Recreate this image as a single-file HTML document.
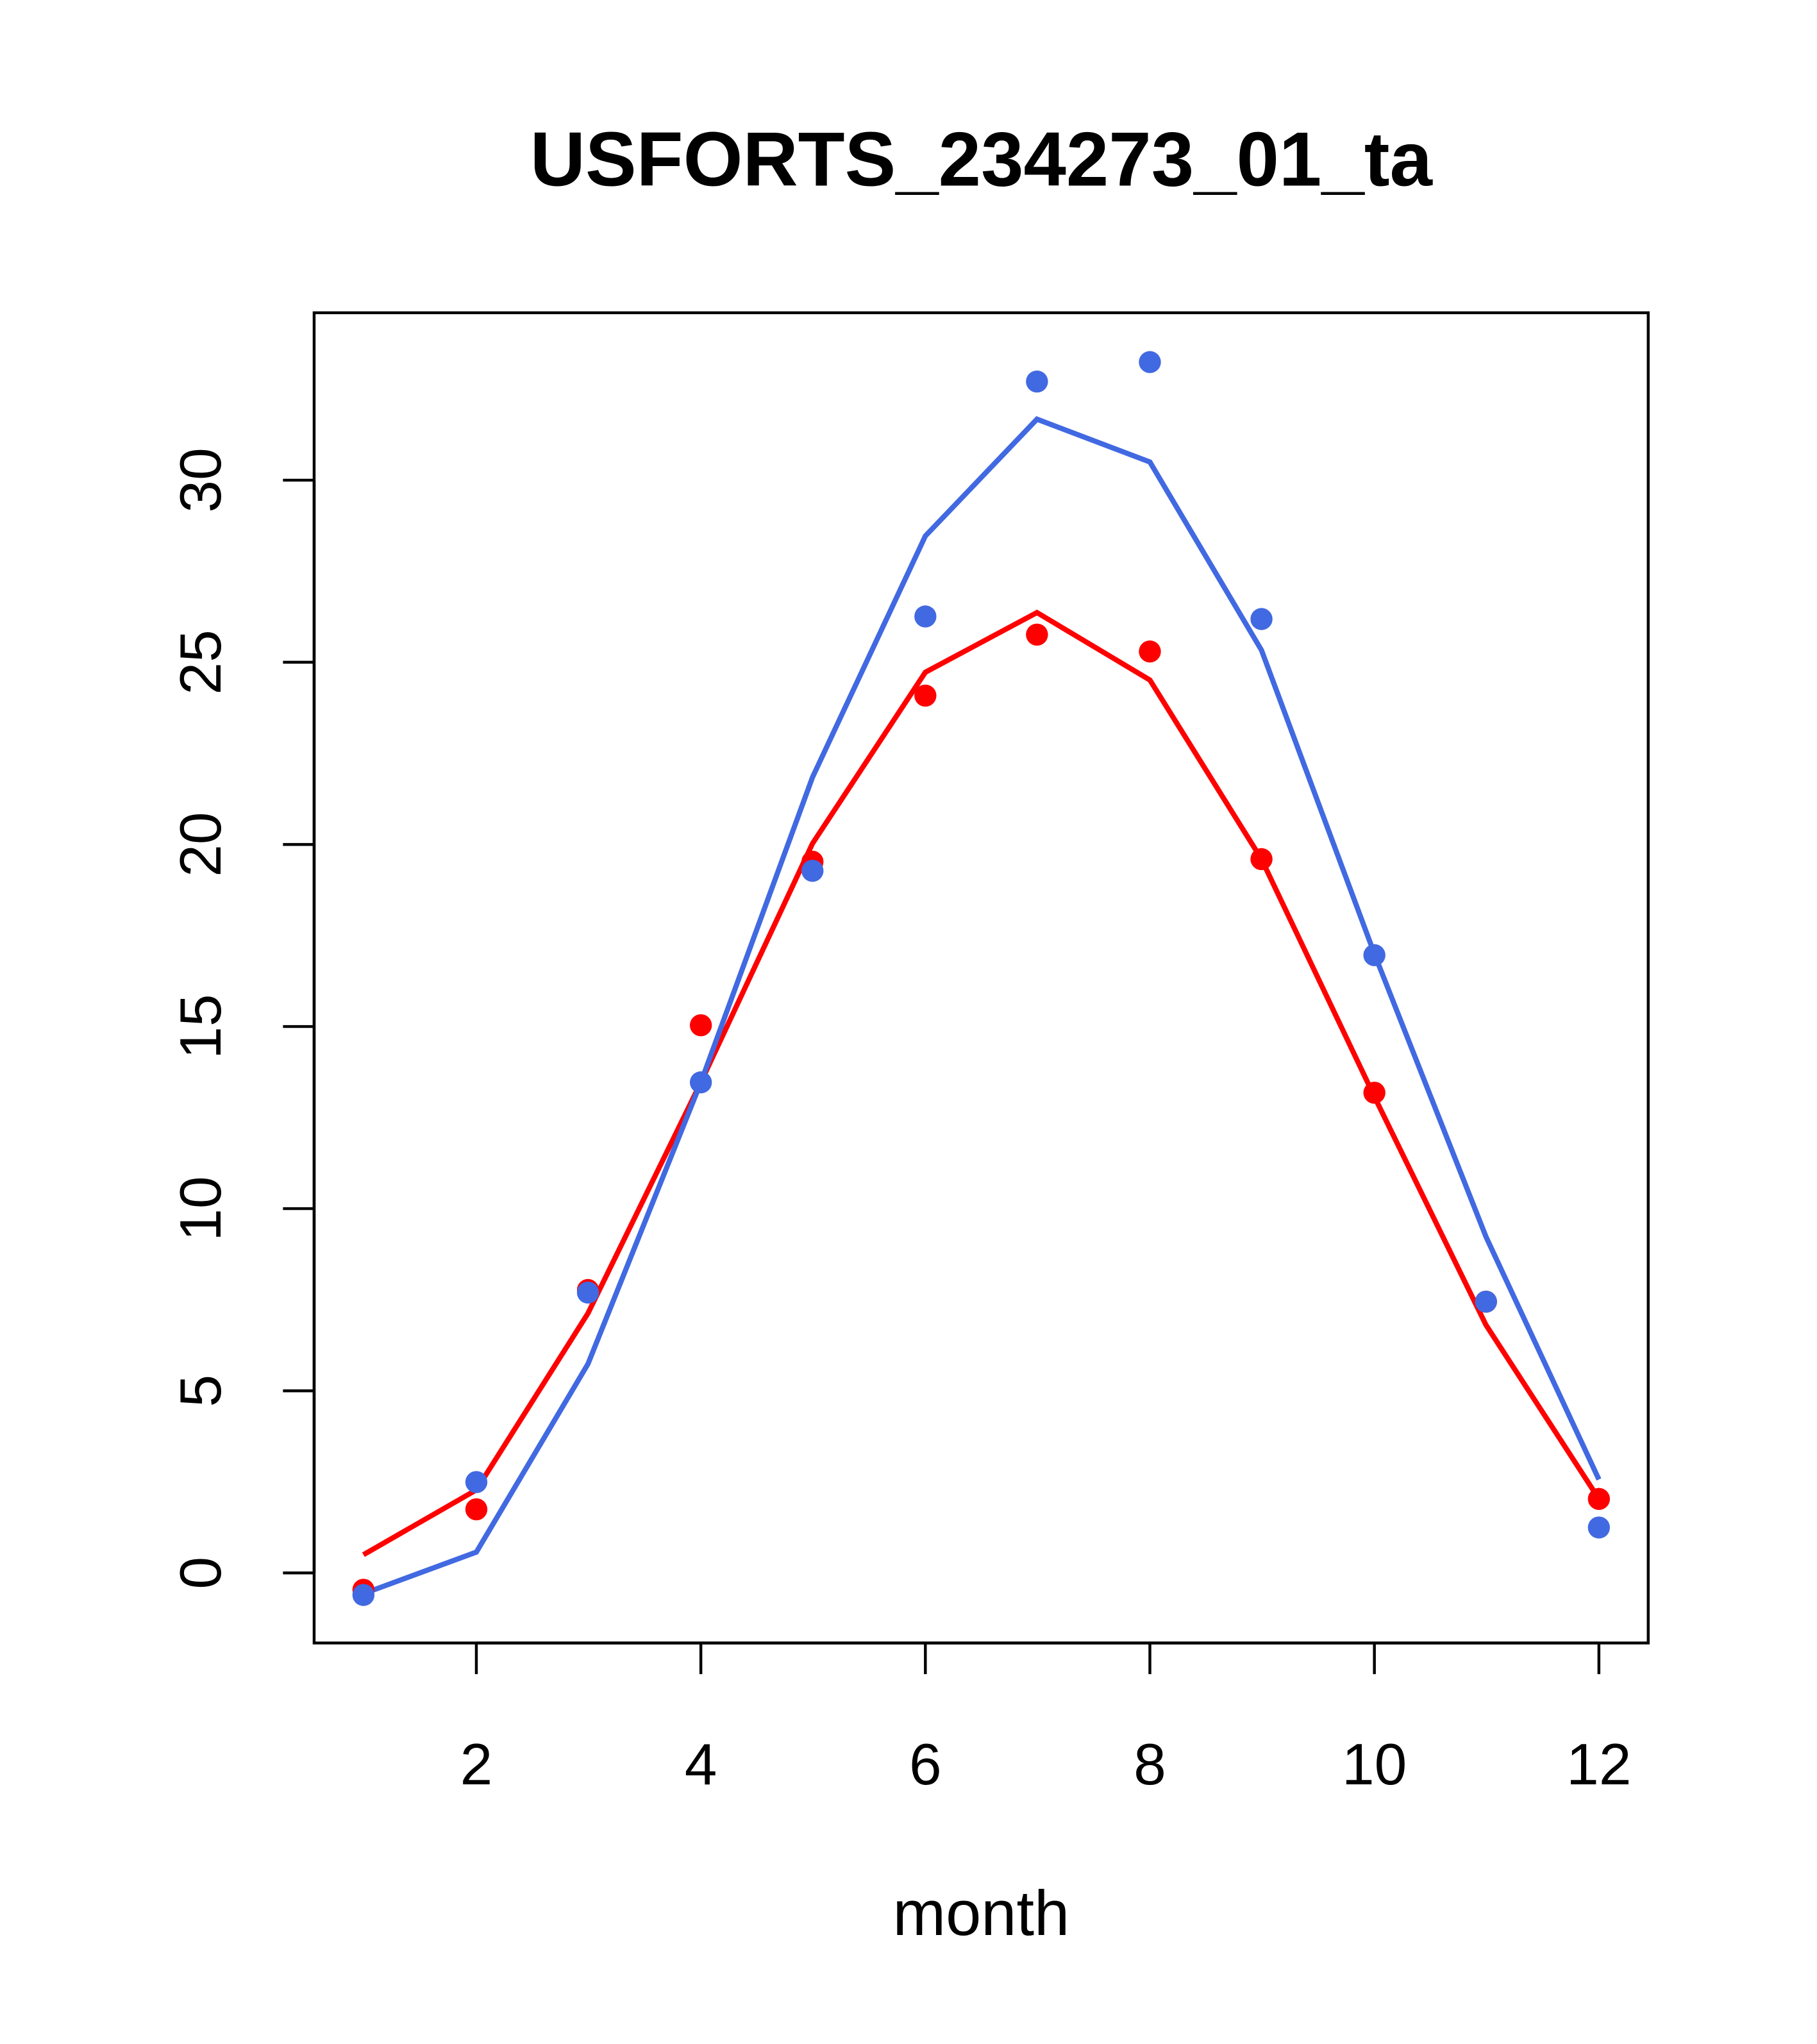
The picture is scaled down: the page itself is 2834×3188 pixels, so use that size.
<!DOCTYPE html>
<html><head><meta charset="utf-8"><style>
html,body{margin:0;padding:0;background:#fff;}
svg{display:block;}
text{font-family:"Liberation Sans",Arial,sans-serif;}
</style></head><body>
<svg width="2834" height="3188" viewBox="0 0 1400 1575" xmlns="http://www.w3.org/2000/svg">
<rect width="1400" height="1575" fill="#fff"/>
<text x="756" y="143" font-size="59" font-weight="bold" text-anchor="middle">USFORTS_234273_01_ta</text>
<rect x="242" y="241" width="1028" height="1025" fill="none" stroke="#000" stroke-width="2.2"/>
<g stroke="#000" stroke-width="2.2">
<line x1="367" y1="1266" x2="1232" y2="1266"/>
<line x1="367" y1="1266" x2="367" y2="1290"/><line x1="540" y1="1266" x2="540" y2="1290"/>
<line x1="713" y1="1266" x2="713" y2="1290"/><line x1="886" y1="1266" x2="886" y2="1290"/>
<line x1="1059" y1="1266" x2="1059" y2="1290"/><line x1="1232" y1="1266" x2="1232" y2="1290"/>
<line x1="242" y1="370" x2="242" y2="1212"/>
<line x1="242" y1="1212" x2="218" y2="1212"/><line x1="242" y1="1071.7" x2="218" y2="1071.7"/>
<line x1="242" y1="931.3" x2="218" y2="931.3"/><line x1="242" y1="791" x2="218" y2="791"/>
<line x1="242" y1="650.7" x2="218" y2="650.7"/><line x1="242" y1="510.3" x2="218" y2="510.3"/>
<line x1="242" y1="370" x2="218" y2="370"/>
</g>
<g font-size="45" text-anchor="middle">
<text x="367" y="1375">2</text><text x="540" y="1375">4</text><text x="713" y="1375">6</text>
<text x="886" y="1375">8</text><text x="1059" y="1375">10</text><text x="1232" y="1375">12</text>
<text transform="translate(170,1212) rotate(-90)">0</text>
<text transform="translate(170,1071.7) rotate(-90)">5</text>
<text transform="translate(170,931.3) rotate(-90)">10</text>
<text transform="translate(170,791) rotate(-90)">15</text>
<text transform="translate(170,650.7) rotate(-90)">20</text>
<text transform="translate(170,510.3) rotate(-90)">25</text>
<text transform="translate(170,370) rotate(-90)">30</text>
</g>
<text x="756" y="1491" font-size="49" text-anchor="middle">month</text>
<polyline fill="none" stroke="#ff0000" stroke-width="4" points="280,1198 367,1148 453,1012 540,834 626,650 713,518 799,472 886,524 972,662 1059,845 1145,1021 1232,1155"/>
<polyline fill="none" stroke="#4169e1" stroke-width="4" points="280,1228 367,1196 453,1051 540,834 626,599 713,413 799,323 886,356 972,501 1059,735 1145,953 1232,1140"/>
<g fill="#ff0000">
<circle cx="280" cy="1225" r="8.5"/><circle cx="367" cy="1163" r="8.5"/><circle cx="453" cy="994" r="8.5"/>
<circle cx="540" cy="790" r="8.5"/><circle cx="626" cy="664" r="8.5"/><circle cx="713" cy="536" r="8.5"/>
<circle cx="799" cy="489" r="8.5"/><circle cx="886" cy="502" r="8.5"/><circle cx="972" cy="662" r="8.5"/>
<circle cx="1059" cy="842" r="8.5"/><circle cx="1145" cy="1003" r="8.5"/><circle cx="1232" cy="1155" r="8.5"/>
</g>
<g fill="#4169e1">
<circle cx="280" cy="1229" r="8.5"/><circle cx="367" cy="1142" r="8.5"/><circle cx="453" cy="996" r="8.5"/>
<circle cx="540" cy="834" r="8.5"/><circle cx="626" cy="671" r="8.5"/><circle cx="713" cy="475" r="8.5"/>
<circle cx="799" cy="294" r="8.5"/><circle cx="886" cy="279" r="8.5"/><circle cx="972" cy="477" r="8.5"/>
<circle cx="1059" cy="736" r="8.5"/><circle cx="1145" cy="1003" r="8.5"/><circle cx="1232" cy="1177" r="8.5"/>
</g>
</svg>
</body></html>
